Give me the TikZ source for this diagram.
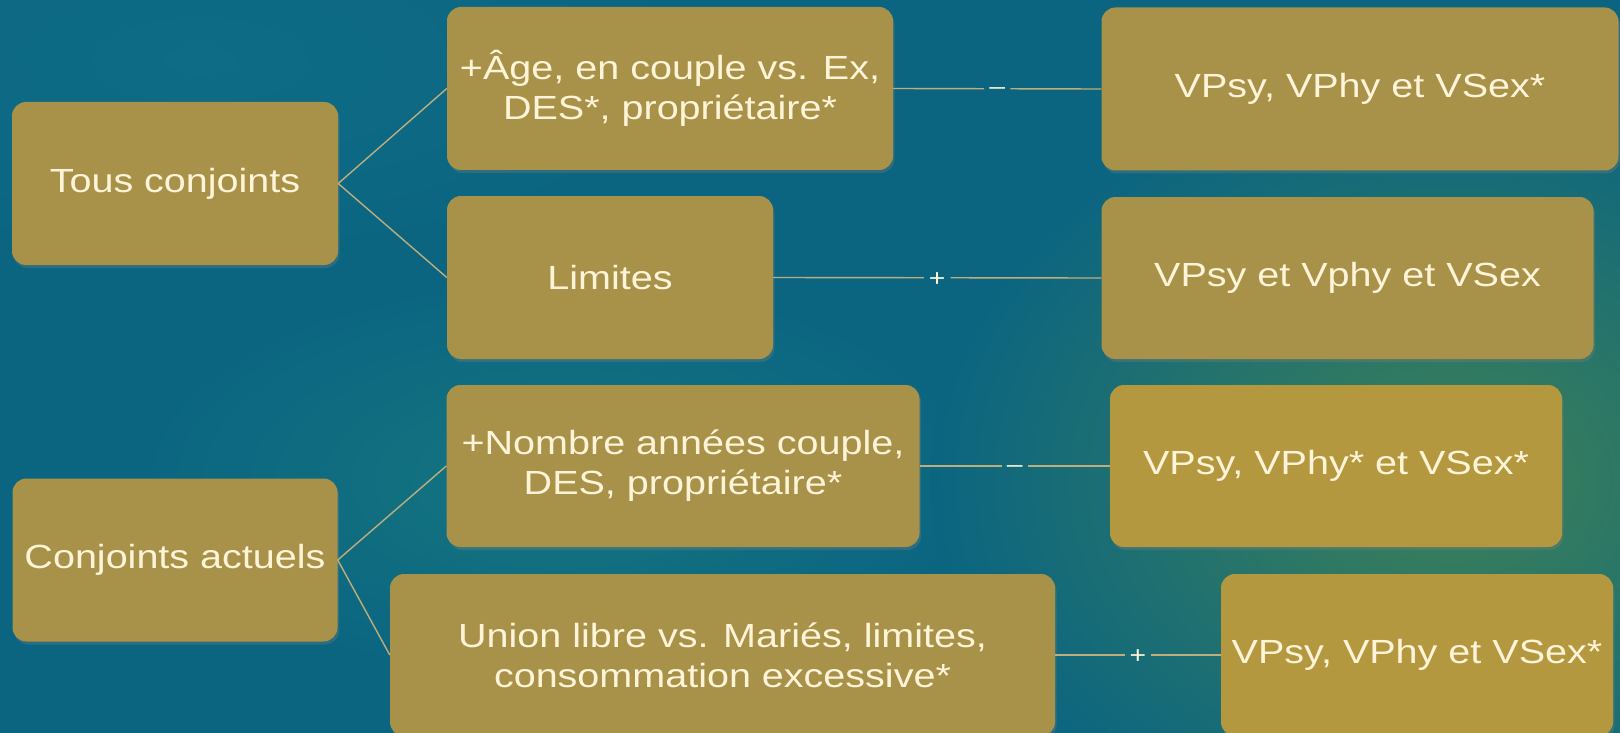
\documentclass[tikz,border=0pt]{standalone}
\usepackage{fontspec}
\setmainfont{Liberation Sans}[FakeStretch=1.18]
\usetikzlibrary{shadows}
\definecolor{bgbase}{HTML}{0B6581}
\definecolor{bgtop}{HTML}{0E6C86}
\definecolor{bggreen}{HTML}{3E8156}
\definecolor{bgteal}{HTML}{15767F}
\definecolor{boxfill}{HTML}{A89148}
\definecolor{boxfillb}{HTML}{B4983F}
\definecolor{txt}{HTML}{FFF4D8}
\definecolor{conn}{HTML}{BFAE7A}
\begin{document}
\begin{tikzpicture}[x=1pt,y=-1pt,
  box/.style={rounded corners=14pt, fill=boxfill, text=txt, align=center,
    inner sep=2pt, font=\fontsize{33.5}{40}\selectfont,
    drop shadow={opacity=0.3,shadow xshift=1.5pt,shadow yshift=-3pt}},
  link/.style={draw=conn, line width=1.4pt},
  sign/.style={text=txt, font=\fontsize{24}{24}\selectfont, inner sep=5pt}]
\useasboundingbox (0,0) rectangle (1620,733);
\clip (0,0) rectangle (1620,733);
% background
\fill[bgbase] (0,0) rectangle (1620,733);
\shade[inner color=bgtop, outer color=bgbase] (200,60) ellipse (500pt and 200pt);
\shade[inner color=bgteal, outer color=bgbase] (560,480) ellipse (420pt and 200pt);
\shade[inner color=bggreen, outer color=bgbase] (1450,480) ellipse (520pt and 400pt);
% boxes
\node[box, minimum width=326pt, minimum height=163pt] (tc) at (175,183.5) {Tous conjoints};
\node[box, minimum width=446pt, minimum height=163pt] (age) at (670,88.5) {+Âge, en couple vs. Ex,\\DES*, propriétaire*};
\node[box, minimum width=326pt, minimum height=163pt] (lim) at (610,277.5) {Limites};
\node[box, minimum width=517pt, minimum height=163pt] (v1) at (1360,89) {VPsy, VPhy et VSex*};
\node[box, minimum width=492pt, minimum height=162pt] (v2) at (1347.5,278) {VPsy et Vphy et VSex};
\node[box, minimum width=325pt, minimum height=163pt] (ca) at (175,560) {Conjoints actuels};
\node[box, minimum width=473pt, minimum height=162pt] (nb) at (683,466) {+Nombre années couple,\\DES, propriétaire*};
\node[box, fill=boxfillb, minimum width=452pt, minimum height=162pt] (v3) at (1336,466) {VPsy, VPhy* et VSex*};
\node[box, minimum width=665pt, minimum height=162pt] (ul) at (722.5,655) {Union libre vs. Mariés, limites,\\consommation excessive*};
\node[box, fill=boxfillb, minimum width=392pt, minimum height=162pt] (v4) at (1417,655) {VPsy, VPhy et VSex*};
% connectors
\draw[link] (tc.east) -- (age.west);
\draw[link] (tc.east) -- (lim.west);
\draw[link] (ca.east) -- (nb.west);
\draw[link] (ca.east) -- (ul.west);
\path (age.east) -- node[sign] (s1) {\raisebox{0pt}[0.52em][0pt]{–}} (v1.west);
\draw[link] (age.east) -- (s1) -- (v1.west);
\path (lim.east) -- node[sign] (s2) {\raisebox{0pt}[0.7em][0pt]{+}} (v2.west);
\draw[link] (lim.east) -- (s2) -- (v2.west);
\path (nb.east) -- node[sign] (s3) {\raisebox{0pt}[0.52em][0pt]{–}} (v3.west);
\draw[link] (nb.east) -- (s3) -- (v3.west);
\path (ul.east) -- node[sign] (s4) {\raisebox{0pt}[0.7em][0pt]{+}} (v4.west);
\draw[link] (ul.east) -- (s4) -- (v4.west);
\end{tikzpicture}
\end{document}
